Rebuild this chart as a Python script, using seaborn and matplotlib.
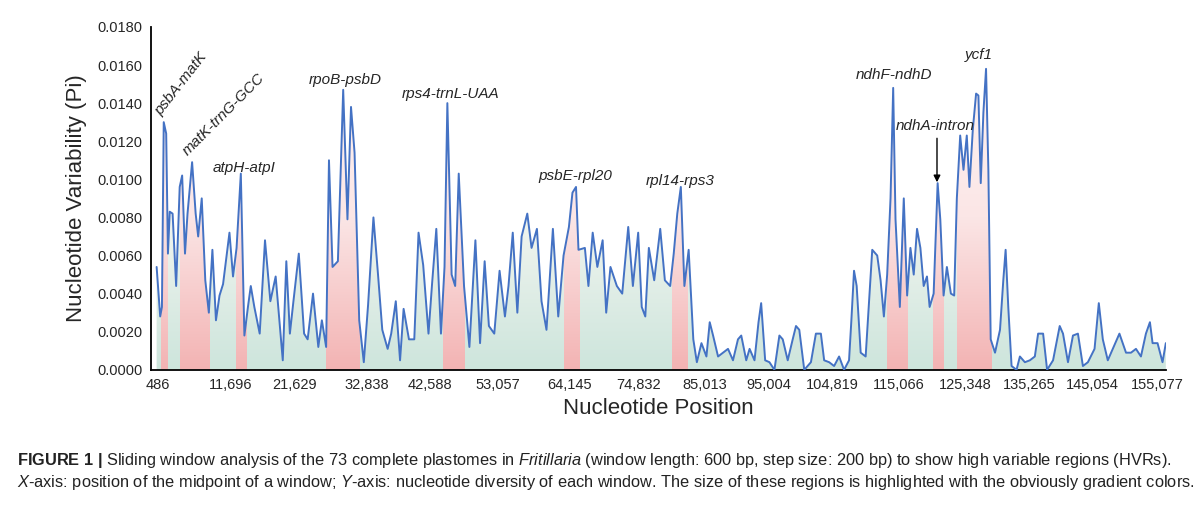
import numpy as np
import pandas as pd
import matplotlib.pyplot as plt
import seaborn as sns
from matplotlib.colors import LinearSegmentedColormap

# window midpoints (kb) and nucleotide diversity (x 1e-3)
pos_kb = [0.24, 0.79, 1.06, 1.34, 1.72, 1.99, 2.27, 2.71, 3.26, 3.81, 4.19, 4.63, 5.02, 5.73, 6.28, 6.67,
          7.22, 7.77, 8.32, 8.87, 9.42, 9.97, 10.52, 11.51, 12.06, 12.61, 13.27, 13.82, 14.37, 14.81, 15.36,
          16.19, 17.01, 17.84, 18.66, 19.76, 20.31, 20.86, 21.41, 22.24, 23.06, 23.61, 24.44, 25.26, 25.81,
          26.47, 26.91, 27.46, 28.29, 29.11, 29.77, 30.32, 30.87, 31.59, 32.30, 32.96, 33.79, 34.50, 35.16,
          35.99, 36.54, 37.25, 37.91, 38.46, 39.29, 40.11, 40.77, 41.49, 42.31, 42.86, 43.52, 44.24, 44.79,
          45.23, 45.89, 46.44, 46.99, 47.81, 48.64, 49.57, 50.29, 51.00, 51.66, 52.49, 53.31, 54.14, 54.69,
          55.35, 56.06, 56.72, 57.60, 58.26, 59.09, 59.80, 60.57, 61.56, 62.39, 63.21, 64.04, 64.59, 65.14,
          65.52, 66.51, 67.06, 67.72, 68.44, 69.26, 69.81, 70.47, 71.46, 72.29, 73.22, 73.94, 74.76, 75.31,
          75.86, 76.41, 77.24, 78.17, 78.89, 79.71, 80.26, 80.81, 81.36, 81.91, 82.57, 83.29, 83.84,
          84.55, 85.32, 85.83, 86.35, 87.12, 87.89, 88.66, 89.43, 90.20, 90.71, 91.48, 92.00, 92.76, 93.38,
          93.79, 94.41, 95.07, 95.84, 96.61, 97.13, 97.90, 98.67, 99.18, 99.69, 100.46, 101.49, 102.26,
          103.03, 103.54, 104.31, 105.08, 105.85, 106.62, 107.39, 107.75, 108.16, 108.57, 109.19, 109.96,
          110.98, 111.75, 112.27, 112.78, 113.29, 113.81, 114.22, 114.58, 115.25, 115.86, 116.38, 116.89,
          117.40, 117.91, 118.43, 118.94, 119.45, 119.86, 120.48, 121.10, 121.51, 122.02, 122.53, 123.15,
          123.66, 124.07, 124.59, 125.10, 125.61, 126.02, 126.54, 127.05, 127.41, 127.77, 128.18, 128.59,
          128.95, 129.31, 129.98, 130.75, 131.26, 131.62, 132.03, 132.54, 133.31, 133.83, 134.60, 135.37,
          136.14, 136.65, 137.42, 138.04, 138.96, 139.99, 140.50, 141.27, 142.04, 142.81, 143.58, 144.35,
          145.38, 146.04, 146.66, 147.43, 148.20, 149.23, 150.25, 151.02, 151.79, 152.56, 153.33, 153.95,
          154.36, 155.13, 155.90, 156.41]
pi_e3 = [5.4, 2.8, 3.3, 13.0, 12.4, 6.1, 8.3, 8.2, 4.4, 9.6, 10.2, 6.1, 8.2, 10.9, 8.2, 7.0,
         9.0, 4.7, 3.0, 6.3, 2.6, 3.9, 4.5, 7.2, 4.9, 6.4, 10.3, 1.8, 3.3, 4.4, 3.3,
         1.9, 6.8, 3.6, 4.9, 0.5, 5.7, 1.9, 3.6, 6.1, 1.9, 1.6, 4.0, 1.2, 2.6,
         1.2, 11.0, 5.4, 5.7, 14.7, 7.9, 13.8, 11.4, 2.6, 0.4, 3.4, 8.0, 5.0, 2.1,
         1.1, 1.9, 3.6, 0.5, 3.2, 1.6, 1.6, 7.2, 5.5, 1.9, 4.5, 7.4, 1.9, 5.4,
         14.0, 5.0, 4.4, 10.3, 4.4, 1.2, 6.8, 1.4, 5.7, 2.3, 1.9, 5.2, 2.8, 4.4,
         7.2, 3.0, 7.0, 8.2, 6.4, 7.4, 3.6, 2.1, 7.4, 2.8, 6.0, 7.5, 9.3, 9.6,
         6.3, 6.4, 4.4, 7.2, 5.4, 6.8, 3.0, 5.4, 4.4, 4.0, 7.5, 4.4, 7.2, 3.3,
         2.8, 6.4, 4.7, 7.4, 4.7, 4.4, 6.1, 8.2, 9.6, 4.4, 6.3, 1.6, 0.4,
         1.4, 0.7, 2.5, 1.8, 0.7, 0.9, 1.1, 0.5, 1.6, 1.8, 0.5, 1.1, 0.5, 2.5,
         3.5, 0.5, 0.4, 0.0, 1.8, 1.6, 0.5, 1.6, 2.3, 2.1, 0.0, 0.4, 1.9,
         1.9, 0.5, 0.4, 0.2, 0.7, 0.0, 0.5, 2.6, 5.2, 4.4, 0.9, 0.7,
         6.3, 6.0, 4.7, 2.8, 5.0, 9.0, 14.8, 7.9, 3.3, 9.0, 3.9, 6.4,
         5.0, 7.4, 6.4, 4.4, 4.9, 3.3, 4.0, 9.8, 7.9, 3.9, 5.4, 4.0,
         3.9, 9.0, 12.3, 10.5, 12.3, 9.6, 12.6, 14.5, 14.4, 9.8, 13.5, 15.8,
         10.5, 1.6, 0.9, 2.1, 4.7, 6.3, 3.3, 0.2, 0.0, 0.7, 0.4, 0.5,
         0.7, 1.9, 1.9, 0.0, 0.5, 2.3, 1.9, 0.4, 1.8, 1.9, 0.2, 0.4,
         1.1, 3.5, 1.6, 0.5, 1.1, 1.9, 0.9, 0.9, 1.1, 0.7, 1.9, 2.5,
         1.4, 1.4, 0.4, 1.4]

# highly variable regions (kb)
hvr_start = [0.95, 3.81, 12.5, 26.5, 44.5, 63.3, 80.0, 113.2, 120.4, 124.1]
hvr_end = [1.99, 8.32, 14.15, 31.75, 47.9, 65.7, 82.35, 116.4, 122.1, 129.5]

labels = ['psbA-matK', 'matK-trnG-GCC', 'atpH-atpI', 'rpoB-psbD', 'rps4-trnL-UAA',
          'psbE-rpl20', 'rpl14-rps3', 'ndhF-ndhD', 'ndhA-intron', 'ycf1']
label_x = [4.0, 10.6, 13.7, 29.4, 45.7, 65.1, 81.2, 114.3, 120.7, 127.5]
label_y = [0.0150, 0.0134, 0.0106, 0.0152, 0.0145, 0.0102, 0.0099, 0.0155, 0.0128, 0.0165]
label_rot = [52, 45, 0, 0, 0, 0, 0, 0, 0, 0]

xtick_vals = [486, 11696, 21629, 32838, 42588, 53057, 64145, 74832, 85013, 95004,
              104819, 115066, 125348, 135265, 145054, 155077]

df = pd.DataFrame({'pos': np.array(pos_kb) * 1000, 'pi': np.array(pi_e3) / 1000})

sns.set_style('white')
plt.rcParams['font.family'] = ['Liberation Sans', 'DejaVu Sans']
plt.rcParams['mathtext.fontset'] = 'custom'
plt.rcParams['mathtext.rm'] = 'Liberation Sans'
plt.rcParams['mathtext.it'] = 'Liberation Sans:italic'
plt.rcParams['mathtext.bf'] = 'Liberation Sans:bold'

fig = plt.figure(figsize=(12, 5.08), dpi=100)
ax = fig.add_axes([0.126, 0.272, 0.846, 0.675])
xmin, xmax = -600, 156500
ax.set_xlim(xmin, xmax)
ax.set_ylim(0, 0.018)

# gradient fill under the curve, clipped by the curve polygon
poly = ax.fill_between(df['pos'], df['pi'], 0, color='none', lw=0)
clip = poly.get_paths()[0]
green = LinearSegmentedColormap.from_list('g', ['#cde5dc', '#f6f7f2', '#ffffff'])
pink = LinearSegmentedColormap.from_list('p', ['#f3b3b3', '#fbe6e6', '#fdf3f3'])
grad = np.linspace(0, 1, 256).reshape(-1, 1)
im = ax.imshow(grad, cmap=green, origin='lower', aspect='auto',
               extent=[xmin, xmax, 0, 0.018], zorder=1)
im.set_clip_path(clip, transform=ax.transData)
for s, e in zip(hvr_start, hvr_end):
    im2 = ax.imshow(grad, cmap=pink, origin='lower', aspect='auto',
                    extent=[s * 1000, e * 1000, 0, 0.016], zorder=1.5)
    im2.set_clip_path(clip, transform=ax.transData)
ax.set_xlim(xmin, xmax)
ax.set_ylim(0, 0.018)

sns.lineplot(data=df, x='pos', y='pi', color='#4472c4', lw=1.4, ax=ax, zorder=3)

for t, x, y, r in zip(labels, label_x, label_y, label_rot):
    ax.text(x * 1000, y, t, style='italic', fontsize=11, ha='center', va='center',
            rotation=r, zorder=4)
ax.annotate('', xy=(121000, 0.0097), xytext=(121000, 0.0123),
            arrowprops=dict(arrowstyle='-|>', color='black', lw=1), zorder=4)

ax.set_xticks(xtick_vals)
ax.set_xticklabels([f'{v:,}' for v in xtick_vals], fontsize=10.5)
ax.set_yticks(np.arange(0, 0.0181, 0.002))
ax.set_yticklabels([f'{v:.4f}' for v in np.arange(0, 0.0181, 0.002)], fontsize=10.5)
ax.tick_params(axis='both', length=0, pad=6)
ax.set_xlabel('Nucleotide Position', fontsize=16)
ax.set_ylabel('Nucleotide Variability (Pi)', fontsize=16, labelpad=8)
for side in ['top', 'right']:
    ax.spines[side].set_visible(False)
for side in ['left', 'bottom']:
    ax.spines[side].set_color('black')
    ax.spines[side].set_linewidth(1.3)

fig.text(0.014, 0.085,
         r'$\bf{FIGURE\ 1\ |}$ Sliding window analysis of the 73 complete plastomes in $\it{Fritillaria}$ '
         '(window length: 600 bp, step size: 200 bp) to show high variable regions (HVRs).',
         fontsize=11.8, color='#222222')
fig.text(0.014, 0.041,
         r'$\it{X}$-axis: position of the midpoint of a window; $\it{Y}$-axis: nucleotide diversity of each '
         'window. The size of these regions is highlighted with the obviously gradient colors.',
         fontsize=11.8, color='#222222')

fig.savefig('out.png', dpi=100)
